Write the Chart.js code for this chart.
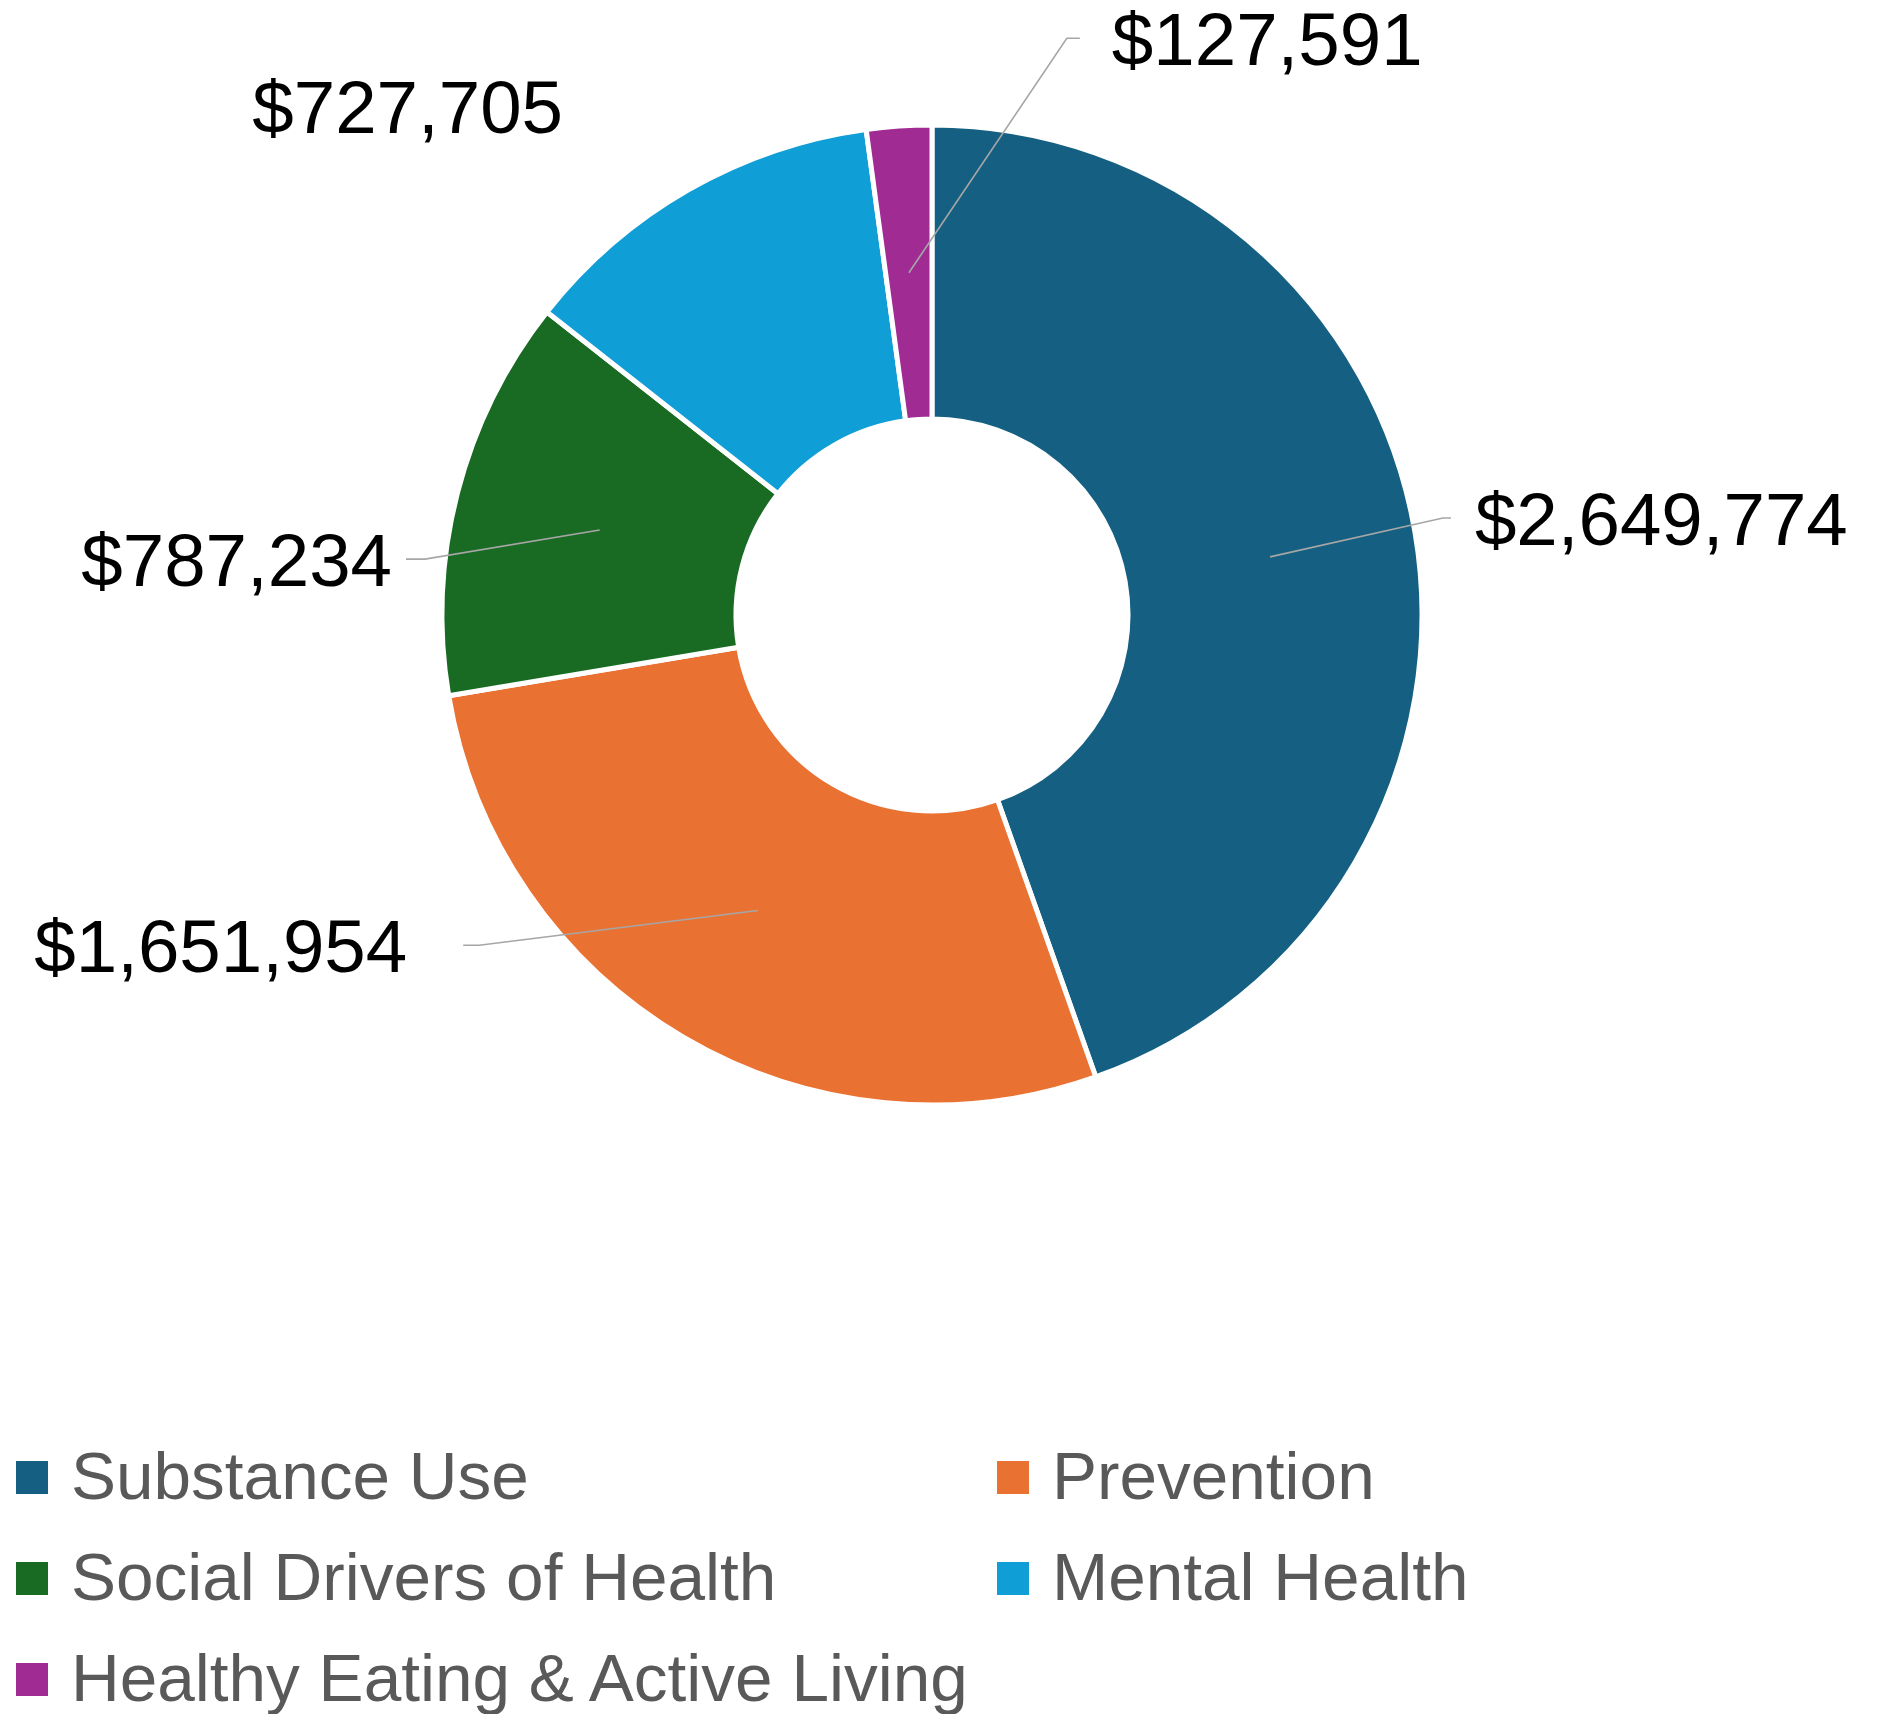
<!DOCTYPE html>
<html>
<head>
    <title>Funding by Category</title>
    <script src="https://cdn.jsdelivr.net/npm/chart.js"></script>
    <style>
        body {
            margin: 0;
            padding: 0;
            background: #fff;
            font-family: 'Liberation Sans', Arial, sans-serif;
        }
        #page {
            position: relative;
            width: 1902px;
            height: 1714px;
            overflow: hidden;
        }
        #chart-box {
            position: absolute;
            left: 0;
            top: 0;
            width: 1902px;
            height: 1230px;
        }
        #legend {
            position: absolute;
            left: 16px;
            top: 1425px;
            display: grid;
            grid-template-columns: 981px auto;
        }
        .item {
            display: flex;
            align-items: center;
            height: 101px;
            line-height: 101px;
            font-size: 67.5px;
            color: #595959;
            white-space: nowrap;
        }
        .swatch {
            width: 32px;
            height: 33px;
            margin-right: 23px;
            position: relative;
            top: 2px;
        }
    </style>
</head>
<body>
<div id="page">
    <div id="chart-box"><canvas id="donut"></canvas></div>
    <div id="legend"></div>
</div>

<script>
    const categories = ['Substance Use', 'Prevention', 'Social Drivers of Health', 'Mental Health', 'Healthy Eating & Active Living'];
    const amounts = [2649774, 1651954, 787234, 727705, 127591];
    const sliceColors = ['#156082', '#E97132', '#196B24', '#0F9ED5', '#A02B93'];

    // value labels: anchor relative to the centre, in outer radii; gap/tail in px for the leader line
    const labelSpots = [
        { x: 1.108, y: -0.143, align: 'left', gap: 24, tail: 8 },
        { x: -1.071, y: 0.729, align: 'right', gap: 56, tail: 16 },
        { x: -1.102, y: -0.059, align: 'right', gap: 14, tail: 19 },
        { x: -0.753, y: -0.984, align: 'right', gap: 0, tail: null },
        { x: 0.367, y: -1.122, align: 'left', gap: 32, tail: 13 }
    ];

    const money = v => '$' + v.toLocaleString('en-US');

    // labels + leader lines drawn next to each arc
    const calloutPlugin = {
        id: 'callouts',
        afterDatasetsDraw(chart) {
            const ctx = chart.ctx;
            const arcs = chart.getDatasetMeta(0).data;
            ctx.save();
            ctx.font = '74.5px "Liberation Sans", Arial, sans-serif';
            ctx.textBaseline = 'alphabetic';
            ctx.fillStyle = '#000';
            ctx.strokeStyle = '#a6a6a6';
            ctx.lineWidth = 1.6;
            arcs.forEach((arc, i) => {
                const p = arc.getProps(['x', 'y', 'startAngle', 'endAngle', 'innerRadius', 'outerRadius'], true);
                const spot = labelSpots[i];
                const tx = p.x + spot.x * p.outerRadius;
                const ty = p.y + spot.y * p.outerRadius;
                if (spot.tail !== null) {
                    const mid = (p.startAngle + p.endAngle) / 2;
                    const r = (p.innerRadius + p.outerRadius) / 2;
                    const sx = p.x + Math.cos(mid) * r;
                    const sy = p.y + Math.sin(mid) * r;
                    const dir = spot.align === 'left' ? -1 : 1;
                    const ex = tx + dir * spot.gap;
                    const ly = ty - 27;
                    ctx.beginPath();
                    ctx.moveTo(sx, sy);
                    ctx.lineTo(ex + dir * spot.tail, ly);
                    ctx.lineTo(ex, ly);
                    ctx.stroke();
                }
                ctx.textAlign = spot.align;
                ctx.fillText(money(amounts[i]), tx, ty);
            });
            ctx.restore();
        }
    };

    new Chart(document.getElementById('donut'), {
        type: 'doughnut',
        data: {
            labels: categories,
            datasets: [{
                data: amounts,
                backgroundColor: sliceColors,
                borderColor: '#fff',
                borderWidth: 5,
                hoverBorderWidth: 5,
                hoverOffset: 0
            }]
        },
        options: {
            responsive: true,
            maintainAspectRatio: false,
            animation: false,
            events: [],
            cutout: '40%',
            layout: {
                padding: { left: 0, right: 38, top: 122.5, bottom: 122.5 }
            },
            plugins: {
                legend: { display: false },
                tooltip: { enabled: false }
            }
        },
        plugins: [calloutPlugin]
    });

    // legend in two columns, like the original
    const legend = document.getElementById('legend');
    categories.forEach((name, i) => {
        const item = document.createElement('div');
        item.className = 'item';
        const sw = document.createElement('span');
        sw.className = 'swatch';
        sw.style.background = sliceColors[i];
        const txt = document.createElement('span');
        txt.textContent = name;
        item.appendChild(sw);
        item.appendChild(txt);
        legend.appendChild(item);
    });
</script>
</body>
</html>
